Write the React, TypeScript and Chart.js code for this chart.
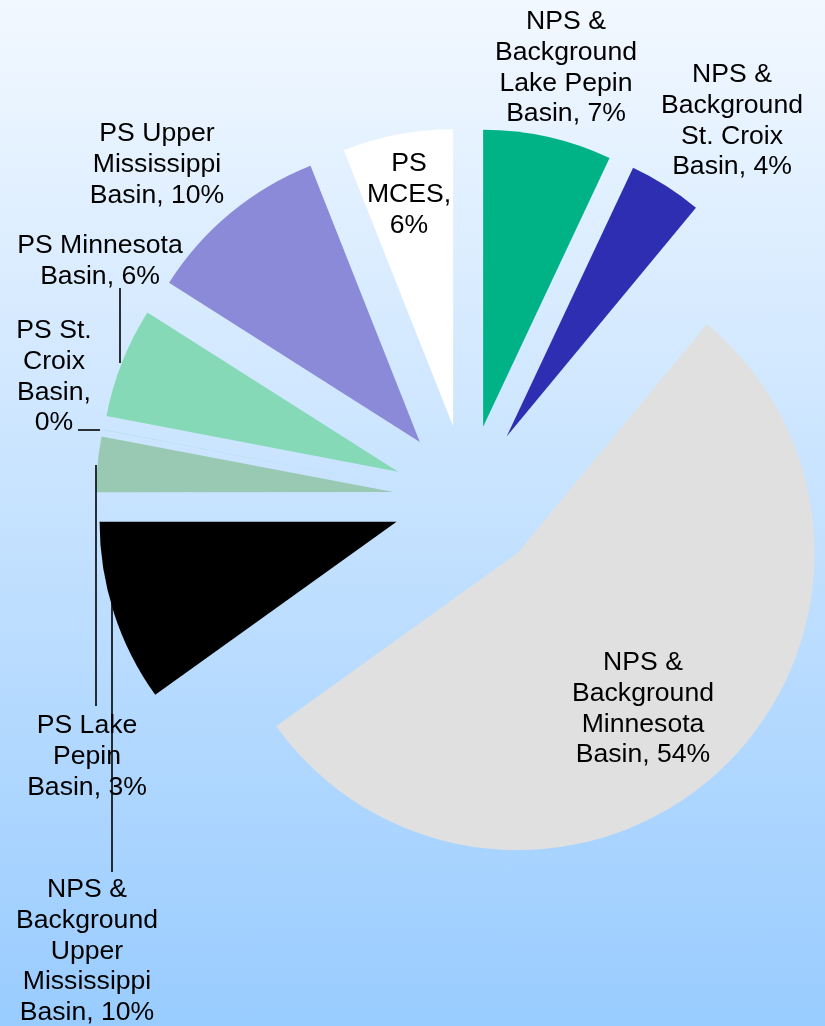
import React, { useEffect, useRef } from 'react';
import { Chart, registerables } from 'chart.js';

Chart.register(...registerables);

// ---- data ----
const categories = [
  'NPS & Background Lake Pepin Basin',
  'NPS & Background St. Croix Basin',
  'NPS & Background Minnesota Basin',
  'NPS & Background Upper Mississippi Basin',
  'PS Lake Pepin Basin',
  'PS St. Croix Basin',
  'PS Minnesota Basin',
  'PS Upper Mississippi Basin',
  'PS MCES',
];
const shares = [7.0, 4.0, 54.1, 9.9, 3.0, 0.01, 6.0, 10.0, 6.0];
const labelLines = [
  ['NPS &', 'Background', 'Lake Pepin', 'Basin, 7%'],
  ['NPS &', 'Background', 'St. Croix', 'Basin, 4%'],
  ['NPS &', 'Background', 'Minnesota', 'Basin, 54%'],
  ['NPS &', 'Background', 'Upper', 'Mississippi', 'Basin, 10%'],
  ['PS Lake', 'Pepin', 'Basin, 3%'],
  ['PS St.', 'Croix', 'Basin,', '0%'],
  ['PS Minnesota', 'Basin, 6%'],
  ['PS Upper', 'Mississippi', 'Basin, 10%'],
  ['PS', 'MCES,', '6%'],
];

// ---- styles / layout ----
const sliceColors = ['#00B386', '#2E2EB3', '#E0E0E0', '#000000', '#99C9B3', '#8CD3B5', '#85D9B7', '#8A8AD8', '#FFFFFF'];
const labelAnchors: [number, number][] = [
  [566, 29],
  [732, 82],
  [643, 670],
  [87, 897],
  [87, 733],
  [54, 338],
  [100, 253],
  [157, 141],
  [409, 171],
];
const leaderLines: [number, number, number, number][] = [
  [120, 288, 120, 363],
  [78, 430, 100, 430],
  [96, 465, 96, 706],
  [112, 590, 112, 872],
];
const EXPLODE = 74;
const LINE_H = 30.8;
const FONT = '26.6px "Liberation Sans", Arial, sans-serif';

export default function App() {
  const ref = useRef<HTMLCanvasElement>(null);

  useEffect(() => {
    const canvas = ref.current!;
    const explodePlugin = {
      id: 'explodedPie',
      beforeDatasetDraw(chart: any, args: any) {
        const ctx = chart.ctx as CanvasRenderingContext2D;
        args.meta.data.forEach((el: any) => {
          const { x, y, startAngle, endAngle, outerRadius } = el;
          if (!(endAngle > startAngle)) return;
          const mid = (startAngle + endAngle) / 2;
          const cx = x + Math.cos(mid) * EXPLODE;
          const cy = y + Math.sin(mid) * EXPLODE;
          ctx.save();
          ctx.beginPath();
          ctx.moveTo(cx, cy);
          ctx.arc(cx, cy, outerRadius, startAngle, endAngle);
          ctx.closePath();
          ctx.fillStyle = el.options.backgroundColor;
          ctx.fill();
          ctx.restore();
        });
        return false;
      },
      afterDraw(chart: any) {
        const ctx = chart.ctx as CanvasRenderingContext2D;
        ctx.save();
        ctx.strokeStyle = '#000000';
        ctx.lineWidth = 1.6;
        leaderLines.forEach(([x1, y1, x2, y2]) => {
          ctx.beginPath();
          ctx.moveTo(x1, y1);
          ctx.lineTo(x2, y2);
          ctx.stroke();
        });
        ctx.font = FONT;
        ctx.fillStyle = '#000000';
        ctx.textAlign = 'center';
        ctx.textBaseline = 'alphabetic';
        labelLines.forEach((lines, i) => {
          const [lx, ly] = labelAnchors[i];
          lines.forEach((t, j) => ctx.fillText(t, lx, ly + j * LINE_H));
        });
        ctx.restore();
      },
    };

    const chart = new Chart(canvas, {
      type: 'pie',
      data: {
        labels: categories,
        datasets: [
          {
            data: shares,
            backgroundColor: sliceColors,
            borderWidth: 0,
            radius: 297,
          } as any,
        ],
      },
      options: {
        responsive: false,
        animation: false,
        events: [],
        layout: { padding: { left: 109, right: 0, top: 0, bottom: 28 } },
        plugins: { legend: { display: false }, tooltip: { enabled: false } },
      },
      plugins: [explodePlugin],
    });
    return () => chart.destroy();
  }, []);

  return (
    <div
      style={{
        position: 'fixed',
        left: 0,
        top: 0,
        width: 825,
        height: 1026,
        background: 'linear-gradient(to bottom, #F2F8FF 0%, #99CCFF 100%)',
      }}
    >
      <canvas ref={ref} width={825} height={1026} style={{ display: 'block' }} />
    </div>
  );
}
